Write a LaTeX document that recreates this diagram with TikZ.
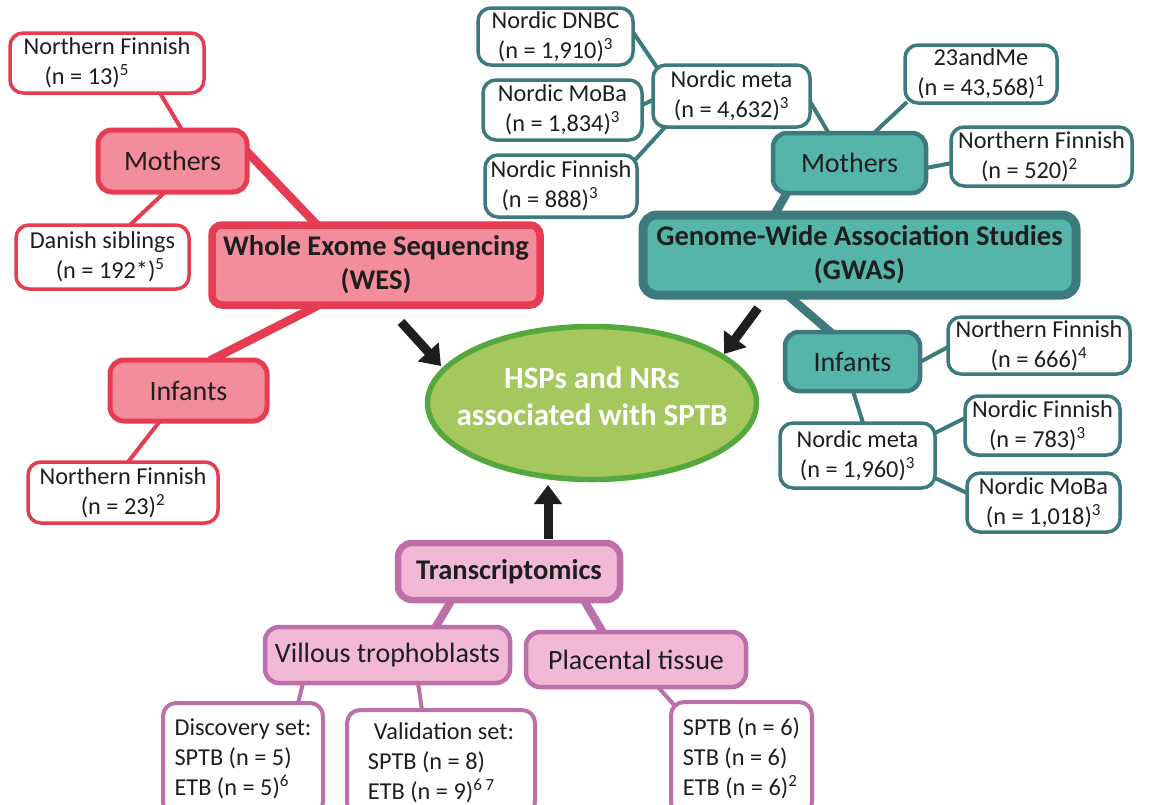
\documentclass[tikz,border=0pt]{standalone}
\usepackage{fontspec}
\setmainfont{Carlito}
\usetikzlibrary{shapes.geometric,arrows.meta}
\definecolor{wred}{HTML}{E63C51}
\definecolor{wpink}{HTML}{F38D9B}
\definecolor{gteal}{HTML}{3C7A7D}
\definecolor{gfill}{HTML}{55B5AA}
\definecolor{tpur}{HTML}{BC6FA8}
\definecolor{tfill}{HTML}{F1B9D6}
\definecolor{ggreen}{HTML}{55A83E}
\definecolor{gfillg}{HTML}{A4C85E}
\definecolor{inkc}{HTML}{1E1E1E}
\newcommand\sps[1]{\textsuperscript{#1}}
\newcommand\leaffont{\fontsize{24.3}{30}\selectfont}
\newcommand\midfont{\fontsize{28}{34}\selectfont}
\newcommand\bigbold{\fontsize{28.5}{34}\selectfont\bfseries}
\newcommand\goalfont{\fontsize{31}{37}\selectfont\bfseries}
\pgfdeclarelayer{bg}
\pgfdeclarelayer{edges}
\pgfsetlayers{bg,edges,main}
\begin{document}
\begin{tikzpicture}[x=1pt,y=-1pt,
  wh/.style 2 args={minimum width=#1pt,minimum height=#2pt},
  base/.style={inner sep=0pt, outer sep=0pt, align=center, text=inkc},
  leafR/.style={base, draw=wred, line width=3.5pt, fill=white, rounded corners=13pt, font=\leaffont},
  midR/.style={base, draw=wred, line width=5pt, fill=wpink, rounded corners=14pt, font=\midfont},
  mainR/.style={base, draw=wred, line width=7.5pt, fill=wpink, rounded corners=10pt, font=\bigbold},
  leafG/.style={base, draw=gteal, line width=3.5pt, fill=white, rounded corners=13pt, font=\leaffont},
  midG/.style={base, draw=gteal, line width=4.5pt, fill=gfill, rounded corners=14pt, font=\midfont},
  mainG/.style={base, draw=gteal, line width=9pt, fill=gfill, rounded corners=14pt, font=\bigbold},
  leafP/.style={base, draw=tpur, line width=4pt, fill=white, rounded corners=13pt, font=\leaffont},
  midP/.style={base, draw=tpur, line width=4.5pt, fill=tfill, rounded corners=14pt, font=\midfont},
  mainP/.style={base, draw=tpur, line width=6.5pt, fill=tfill, rounded corners=14pt, font=\bigbold},
  goalshape/.style={ellipse, draw=ggreen, line width=5.5pt, fill=gfillg, inner sep=0pt},
  goaltext/.style={base, text=white, font=\goalfont},
  cR/.style={draw=wred, line width=4pt},
  cRt/.style={draw=wred, line width=8.5pt},
  cG/.style={draw=gteal, line width=4pt},
  cGt/.style={draw=gteal, line width=8.5pt},
  cP/.style={draw=tpur, line width=4pt},
  cPt/.style={draw=tpur, line width=8pt},
  bigarrow/.style={draw=inkc, line width=9pt, -{Triangle[length=19pt,width=27pt]}}
]
\useasboundingbox (0,0) rectangle (1149,804);
\begin{pgfonlayer}{bg}
\fill[white] (0,0) rectangle (1149,804);
\end{pgfonlayer}
\clip (0,0) rectangle (1149,804);

% WES (red)
\node[leafR, wh={194}{60}, align=left] (wnf1) at (107,63) {Northern Finnish\\\hspace*{21pt}(n = 13)\sps{5}};
\node[midR, wh={149}{62}] (wmo) at (172.5,161) {Mothers};
\node[leafR, wh={173}{64}, align=left] (wds) at (102.5,257) {Danish siblings\\\hspace*{26pt}(n = 192*)\sps{5}};
\node[mainR, wh={328}{80}] (wes) at (376,265) {Whole Exome Sequencing\\(WES)};
\node[midR, wh={157}{61}] (winf) at (188.5,390.5) {Infants};
\node[leafR, wh={190}{61}] (wnf2) at (123,492.5) {Northern Finnish\\(n = 23)\sps{2}};

% GWAS (teal)
\node[leafG, wh={155}{57}] (dnbc) at (555.5,36.5) {Nordic DNBC\\(n = 1,910)\sps{3}};
\node[leafG, wh={159}{60}] (gmoba) at (562.5,110) {Nordic MoBa\\(n = 1,834)\sps{3}};
\node[leafG, wh={152}{62}, align=left] (gfin) at (561,186) {Nordic Finnish\\\hspace*{11pt}(n = 888)\sps{3}};
\node[leafG, wh={157}{62}] (gmeta) at (731.5,96) {Nordic meta\\(n = 4,632)\sps{3}};
\node[midG, wh={153}{60}] (gmo) at (849.5,163) {Mothers};
\node[leafG, wh={152}{58}] (g23) at (981,74) {23andMe\\(n = 43,568)\sps{1}};
\node[leafG, wh={181}{59}, align=left] (gnf) at (1041.5,156.5) {Northern Finnish\\\hspace*{23pt}(n = 520)\sps{2}};
\node[mainG, wh={433}{80}] (gwas) at (859.5,255) {Genome-Wide Association Studies\\(GWAS)};
\node[midG, wh={135}{59}] (ginf) at (852.5,361.5) {Infants};
\node[leafG, wh={182}{57}] (gnf666) at (1039,345.5) {Northern Finnish\\(n = 666)\sps{4}};
\node[leafG, wh={155}{65}] (gmeta2) at (857.5,455.5) {Nordic meta\\(n = 1,960)\sps{3}};
\node[leafG, wh={155}{59}, align=left] (gnf783) at (1042.5,425.5) {Nordic Finnish\\\hspace*{17pt}(n = 783)\sps{3}};
\node[leafG, wh={153}{59}] (gmoba2) at (1043.5,502.5) {Nordic MoBa\\(n = 1,018)\sps{3}};

% Transcriptomics (purple)
\node[mainP, wh={222}{57}] (trans) at (509,571.5) {Transcriptomics};
\node[midP, wh={245}{56}] (vill) at (387.5,655) {Villous trophoblasts};
\node[midP, wh={220}{55}] (plac) at (636,659.5) {Placental tissue};
\node[leafP, wh={160}{112}, align=left] (disc) at (243,759) {Discovery set:\\SPTB (n = 5)\\ETB (n = 5)\sps{6}};
\node[leafP, wh={188}{105}, align=left] (vali) at (441,762.5) {\hspace*{6pt}Validation set:\\SPTB (n = 8)\\ETB (n = 9)\sps{6 7}};
\node[leafP, wh={141}{113}, align=left] (sptb) at (741.5,758.5) {SPTB (n = 6)\\STB (n = 6)\\ETB (n = 6)\sps{2}};

% goal
\node[goalshape, minimum width=329pt, minimum height=153pt] (goal) at (592,403) {};
\node[goaltext] (goallabel) at (592,396) {HSPs and NRs\\associated with SPTB};

% arrows
\coordinate (a1s) at (401,322);
\coordinate (a1e) at (441,366);
\coordinate (a2s) at (758,308);
\coordinate (a2e) at (724,354);
\coordinate (a3s) at (548,539);
\coordinate (a3e) at (548,485);
\draw[bigarrow] (a1s) -- (a1e);
\draw[bigarrow] (a2s) -- (a2e);
\draw[bigarrow] (a3s) -- (a3e);

\begin{pgfonlayer}{edges}
% red
\draw[cR] ([shift={(53,30)}]wnf1.center) -- ([shift={(9.5,-31)}]wmo.center);
\draw[cR] ([shift={(-7.5,31)}]wmo.center) -- ([shift={(27.5,-32)}]wds.center);
\draw[cRt] ([shift={(70,-14)}]wmo.center) -- ([shift={(-57,-38)}]wes.center);
\draw[cRt] ([shift={(-53,38)}]wes.center) -- ([shift={(21.5,-30)}]winf.center);
\draw[cR] ([shift={(-28.5,30.5)}]winf.center) -- ([shift={(5,-30.5)}]wnf2.center);
% teal
\draw[cG] ([shift={(77.5,-4.5)}]dnbc.center) -- ([shift={(-71.5,-24)}]gmeta.center);
\draw[cG] ([shift={(79.5,-5)}]gmoba.center) -- ([shift={(-78.5,4)}]gmeta.center);
\draw[cG] ([shift={(74,-26)}]gfin.center) -- ([shift={(-64.5,29)}]gmeta.center);
\draw[cG] ([shift={(76.5,2)}]gmeta.center) -- ([shift={(-21.5,-31)}]gmo.center);
\draw[cG] ([shift={(25.5,-31)}]gmo.center) -- ([shift={(-74,28)}]g23.center);
\draw[cG] ([shift={(76.5,5)}]gmo.center) -- ([shift={(-89.5,6.5)}]gnf.center);
\draw[cGt] ([shift={(-61.5,28)}]gmo.center) -- ([shift={(-86.5,-38)}]gwas.center);
\draw[cGt] ([shift={(-74.5,38)}]gwas.center) -- ([shift={(-20.5,-28)}]ginf.center);
\draw[cG] ([shift={(67.5,0.5)}]ginf.center) -- ([shift={(-91,1.5)}]gnf666.center);
\draw[cG] ([shift={(0.5,29.5)}]ginf.center) -- ([shift={(5.5,-32.5)}]gmeta2.center);
\draw[cG] ([shift={(77.5,-22.5)}]gmeta2.center) -- ([shift={(-77.5,-7.5)}]gnf783.center);
\draw[cG] ([shift={(77.5,22.5)}]gmeta2.center) -- ([shift={(-76.5,-9.5)}]gmoba2.center);
% purple
\draw[cPt] ([shift={(-57,28)}]trans.center) -- ([shift={(47.5,-27)}]vill.center);
\draw[cPt] ([shift={(74,27)}]trans.center) -- ([shift={(-33,-27)}]plac.center);
\draw[cP] ([shift={(-84.5,28)}]vill.center) -- ([shift={(55,-56)}]disc.center);
\draw[cP] ([shift={(30.5,28)}]vill.center) -- ([shift={(-19,-52.5)}]vali.center);
\draw[cP] ([shift={(22,27.5)}]plac.center) -- ([shift={(-66.5,-52.5)}]sptb.center);
\end{pgfonlayer}
\end{tikzpicture}
\end{document}
